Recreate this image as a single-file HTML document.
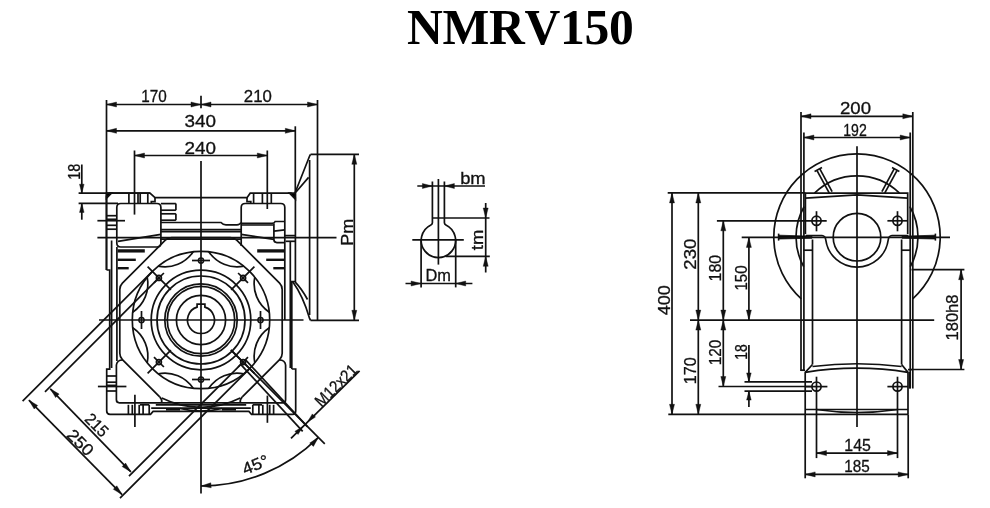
<!DOCTYPE html>
<html><head><meta charset="utf-8"><title>NMRV150</title>
<style>
html,body{margin:0;padding:0;background:#fff;}
body{filter:grayscale(1);width:990px;height:508px;overflow:hidden;position:relative;font-family:"Liberation Sans",sans-serif;}
h1{position:absolute;left:0;top:0;margin:0;width:990px;height:60px;font-family:"Liberation Serif",serif;font-weight:bold;font-size:49.6px;line-height:1;font-kerning:none;color:#000;}
h1 span{position:absolute;left:407px;top:3px;display:block;white-space:nowrap;letter-spacing:-0.3px;}
svg{position:absolute;left:0;top:0;}
svg line,svg path,svg circle{stroke:#111;stroke-width:1.7;fill:none;}
svg .a{fill:#111;stroke:#111;stroke-width:0.4;}
svg text{font-family:"Liberation Sans",sans-serif;font-size:16.5px;fill:#111;stroke:#111;stroke-width:0.3px;}
</style></head><body>
<h1><span>NMRV150</span></h1>
<svg width="990" height="508" viewBox="0 0 990 508">
<line x1="106.5" y1="100.0" x2="106.5" y2="270.0"/>
<line x1="201.0" y1="95.7" x2="201.0" y2="108.3"/>
<line x1="317.5" y1="100.0" x2="317.5" y2="320.0"/>
<line x1="106.5" y1="104.5" x2="201.0" y2="104.5"/>
<polygon class="a" points="106.5,104.5 116.5,102.0 116.5,107.0"/>
<polygon class="a" points="201.0,104.5 191.0,107.0 191.0,102.0"/>
<text x="153.9" y="102.2" text-anchor="middle" textLength="25.5" lengthAdjust="spacingAndGlyphs">170</text>
<line x1="201.0" y1="104.5" x2="317.5" y2="104.5"/>
<polygon class="a" points="201.0,104.5 211.0,102.0 211.0,107.0"/>
<polygon class="a" points="317.5,104.5 307.5,107.0 307.5,102.0"/>
<text x="257.8" y="102.2" text-anchor="middle" textLength="28" lengthAdjust="spacingAndGlyphs">210</text>
<line x1="295.3" y1="126.3" x2="295.3" y2="197.0"/>
<line x1="106.5" y1="130.8" x2="295.3" y2="130.8"/>
<polygon class="a" points="106.5,130.8 116.5,128.3 116.5,133.3"/>
<polygon class="a" points="295.3,130.8 285.3,133.3 285.3,128.3"/>
<text x="200.2" y="127.2" text-anchor="middle" textLength="31.5" lengthAdjust="spacingAndGlyphs">340</text>
<line x1="134.5" y1="150.5" x2="134.5" y2="214.6"/>
<line x1="267.3" y1="150.5" x2="267.3" y2="209.0"/>
<line x1="134.5" y1="155.5" x2="267.3" y2="155.5"/>
<polygon class="a" points="134.5,155.5 144.5,153.0 144.5,158.0"/>
<polygon class="a" points="267.3,155.5 257.3,158.0 257.3,153.0"/>
<text x="200.2" y="154.0" text-anchor="middle" textLength="31.5" lengthAdjust="spacingAndGlyphs">240</text>
<line x1="78.6" y1="193.2" x2="150.0" y2="193.2"/>
<line x1="78.6" y1="203.4" x2="118.0" y2="203.4"/>
<line x1="81.8" y1="164.5" x2="81.8" y2="193.2"/>
<line x1="81.8" y1="203.4" x2="81.8" y2="219.7"/>
<polygon class="a" points="81.8,193.2 79.5,184.2 84.1,184.2"/>
<polygon class="a" points="81.8,203.4 84.1,212.4 79.5,212.4"/>
<text x="79.8" y="171.8" text-anchor="middle" transform="rotate(-90 79.8 171.8)" textLength="16" lengthAdjust="spacingAndGlyphs" font-size="17.5">18</text>
<line x1="201.0" y1="161.0" x2="201.0" y2="493.4"/>
<line x1="99.0" y1="320.0" x2="303.5" y2="320.0"/>
<line x1="97.4" y1="237.6" x2="336.5" y2="237.6"/>
<line x1="97.4" y1="220.7" x2="125.0" y2="220.7"/>
<circle cx="201.0" cy="320.0" r="24.6"/>
<circle cx="201.0" cy="320.0" r="33.7"/>
<circle cx="201.0" cy="320.0" r="36.2"/>
<circle cx="201.0" cy="320.0" r="44.0"/>
<circle cx="201.0" cy="320.0" r="49.8"/>
<circle cx="201.0" cy="320.0" r="68.7"/>
<path d="M197.1,307.1 L197.1,304.2 L204.9,304.2 L204.9,307.1 A13.5,13.5 0 1 1 197.1,307.1Z"/>
<circle cx="260.5" cy="320.0" r="2.6" style="stroke-width:1.5"/>
<line x1="260.5" y1="311.0" x2="260.5" y2="329.0"/>
<circle cx="243.1" cy="362.1" r="2.6" style="stroke-width:1.5"/>
<line x1="231.1" y1="350.1" x2="254.4" y2="373.4"/>
<line x1="248.0" y1="357.1" x2="238.1" y2="367.0"/>
<circle cx="201.0" cy="379.5" r="2.6" style="stroke-width:1.5"/>
<line x1="210.0" y1="379.5" x2="192.0" y2="379.5"/>
<circle cx="158.9" cy="362.1" r="2.6" style="stroke-width:1.5"/>
<line x1="170.9" y1="350.1" x2="147.6" y2="373.4"/>
<line x1="163.9" y1="367.0" x2="154.0" y2="357.1"/>
<circle cx="141.5" cy="320.0" r="2.6" style="stroke-width:1.5"/>
<line x1="141.5" y1="329.0" x2="141.5" y2="311.0"/>
<circle cx="158.9" cy="277.9" r="2.6" style="stroke-width:1.5"/>
<line x1="170.9" y1="289.9" x2="147.6" y2="266.6"/>
<line x1="154.0" y1="282.9" x2="163.9" y2="273.0"/>
<circle cx="201.0" cy="260.5" r="2.6" style="stroke-width:1.5"/>
<line x1="192.0" y1="260.5" x2="210.0" y2="260.5"/>
<circle cx="243.1" cy="277.9" r="2.6" style="stroke-width:1.5"/>
<line x1="231.1" y1="289.9" x2="254.4" y2="266.6"/>
<line x1="238.1" y1="273.0" x2="248.0" y2="282.9"/>
<path d="M269.3,327.8 A34,34 0 0 0 254.8,362.8"/>
<path d="M243.8,373.8 A34,34 0 0 0 208.8,388.3"/>
<path d="M193.2,388.3 A34,34 0 0 0 158.2,373.8"/>
<path d="M147.2,362.8 A34,34 0 0 0 132.7,327.8"/>
<path d="M132.7,312.2 A34,34 0 0 0 147.2,277.2"/>
<path d="M158.2,266.2 A34,34 0 0 0 193.2,251.7"/>
<path d="M208.8,251.7 A34,34 0 0 0 243.8,266.2"/>
<path d="M254.8,277.2 A34,34 0 0 0 269.3,312.2"/>
<path d="M159.7,396.9 L122.4,359.6 A9,9 0 0 1 119.8,353.3 L119.8,289.4 A9,9 0 0 1 122.4,283.1 L165.3,240.2 A9,9 0 0 1 171.6,237.6 L230.4,237.6 A9,9 0 0 1 236.7,240.2 L279.6,283.1 A9,9 0 0 1 282.2,289.4 L282.2,353.3 A9,9 0 0 1 279.6,359.6 L242.3,396.9"/>
<path d="M161.7,402.8 Q162.3,399.5 159.7,396.9"/>
<path d="M240.3,402.8 Q239.7,399.5 242.3,396.9"/>
<path d="M161.8,398 A87.4,87.4 0 0 0 240.2,398"/>
<path d="M106.5,270 L106.5,196.2 L109.5,193.2 L150,193.2 L155,197.7 L247,197.7 L250.2,193.2 L291,193.2 L295.4,197.7 L295.4,281.5 L291.8,281.5 L291.8,369"/>
<path d="M106.5,193.2 L111.5,193.2 L106.5,198.2Z" style="fill:#000;"/>
<path d="M289.5,193.2 L295.4,193.2 L295.4,199.2Z" style="fill:#000;"/>
<path d="M155,197.7 L155,201.6 L151.3,201.6 L151.3,203.5"/>
<path d="M247,197.7 L247,201.6 L250.8,201.6 L250.8,203.5"/>
<line x1="128.9" y1="193.2" x2="128.9" y2="203.5"/>
<line x1="138.0" y1="193.2" x2="138.0" y2="203.5"/>
<line x1="140.2" y1="193.2" x2="140.2" y2="203.5"/>
<line x1="147.8" y1="193.2" x2="147.8" y2="203.5"/>
<line x1="253.6" y1="193.2" x2="253.6" y2="203.5"/>
<line x1="262.4" y1="193.2" x2="262.4" y2="203.5"/>
<line x1="271.3" y1="193.2" x2="271.3" y2="203.5"/>
<path d="M116.8,243 L116.8,207.6 Q116.8,203.5 120.8,203.5 L156.9,203.5 Q160.9,203.5 160.9,207.6 L160.9,243 Q160.9,247 156.9,247 L120.8,247 Q116.8,247 116.8,243"/>
<path d="M160.9,234.3 L118,241.3"/>
<line x1="160.9" y1="203.6" x2="175.9" y2="203.6"/>
<line x1="175.9" y1="203.6" x2="175.9" y2="210.2"/>
<line x1="160.9" y1="210.2" x2="175.9" y2="210.2"/>
<line x1="160.9" y1="213.8" x2="175.9" y2="213.8"/>
<line x1="175.9" y1="213.8" x2="175.9" y2="220.2"/>
<line x1="160.9" y1="220.2" x2="175.9" y2="220.2"/>
<path d="M160.9,222.5 L221,222.5 Q223,224.8 226,224.8 L237,224.8 Q240,224.8 241,222.5"/>
<line x1="160.9" y1="229.6" x2="241.0" y2="229.6"/>
<line x1="160.9" y1="231.6" x2="241.0" y2="231.6"/>
<line x1="106.5" y1="215.7" x2="116.8" y2="215.7"/>
<line x1="106.5" y1="219.3" x2="116.8" y2="219.3"/>
<line x1="106.5" y1="225.3" x2="116.8" y2="225.3"/>
<line x1="106.5" y1="229.2" x2="116.8" y2="229.2"/>
<path d="M241.2,246 L241.2,207.6 Q241.2,203.5 245.2,203.5 L280.8,203.5 Q284.8,203.5 284.8,207.6 L284.8,320"/>
<path d="M241.2,223.4 L272,223.4 Q274.5,223.4 275.2,221.5 L284.8,221.5"/>
<line x1="241.2" y1="225.0" x2="273.5" y2="225.0"/>
<path d="M273.9,223.5 L273.9,239.6 Q273.9,242.6 276.9,242.6 L284.8,242.6"/>
<line x1="273.9" y1="231.1" x2="284.8" y2="229.8"/>
<line x1="241.2" y1="234.3" x2="273.9" y2="239.4"/>
<line x1="284.8" y1="235.6" x2="295.4" y2="235.6"/>
<line x1="160.4" y1="239.2" x2="241.0" y2="239.2"/>
<line x1="285.6" y1="241.3" x2="295.0" y2="241.3"/>
<line x1="117.6" y1="250.9" x2="144.8" y2="250.9" style="stroke-width:3.3"/>
<line x1="284.4" y1="250.9" x2="257.2" y2="250.9" style="stroke-width:3.3"/>
<line x1="117.6" y1="259.8" x2="135.8" y2="259.8" style="stroke-width:2.4"/>
<line x1="284.4" y1="259.8" x2="266.2" y2="259.8" style="stroke-width:2.4"/>
<line x1="117.6" y1="268.2" x2="128.7" y2="268.2" style="stroke-width:2.4"/>
<line x1="284.4" y1="268.2" x2="273.3" y2="268.2" style="stroke-width:2.4"/>
<line x1="111.6" y1="240.5" x2="111.6" y2="368.0"/>
<line x1="116.9" y1="247.0" x2="116.9" y2="361.0"/>
<path d="M106.5,270 L109.7,270 L109.7,369.2 L106.7,369.2 L106.7,411 Q106.7,414.3 110,414.3 L150.5,414.3 L153.1,411.4 L248.9,411.4 L251.5,414.3 L292.5,414.3 Q295.7,414.3 295.7,411 L295.7,369 L291.8,369"/>
<line x1="290.3" y1="242.0" x2="290.3" y2="368.0"/>
<path d="M122.8,360 Q117,360 116.4,365 L116.4,399.8 Q116.4,402.8 119.4,402.8 L282.6,402.8 Q285.6,402.8 285.6,399.8 L285.6,365 Q285,360 279.2,360"/>
<line x1="140.0" y1="404.8" x2="149.2" y2="404.8"/>
<line x1="155.8" y1="404.8" x2="246.2" y2="404.8"/>
<line x1="252.8" y1="404.8" x2="262.0" y2="404.8"/>
<line x1="151.2" y1="408.1" x2="250.8" y2="408.1"/>
<line x1="166.0" y1="409.8" x2="180.0" y2="409.8" style="stroke-width:1.6"/>
<line x1="222.0" y1="409.8" x2="236.0" y2="409.8" style="stroke-width:1.6"/>
<path d="M180,408.5 Q201,413.5 222,408.5"/>
<line x1="128.4" y1="404.8" x2="128.4" y2="414.0"/>
<line x1="273.6" y1="404.8" x2="273.6" y2="414.0"/>
<line x1="132.3" y1="404.8" x2="132.3" y2="414.0"/>
<line x1="269.7" y1="404.8" x2="269.7" y2="414.0"/>
<line x1="139.2" y1="404.8" x2="139.2" y2="414.0"/>
<line x1="262.8" y1="404.8" x2="262.8" y2="414.0"/>
<line x1="143.1" y1="404.8" x2="143.1" y2="414.0"/>
<line x1="258.9" y1="404.8" x2="258.9" y2="414.0"/>
<line x1="149.2" y1="404.8" x2="149.2" y2="414.0"/>
<line x1="252.8" y1="404.8" x2="252.8" y2="414.0"/>
<line x1="106.7" y1="376.0" x2="116.4" y2="376.0"/>
<line x1="106.7" y1="382.2" x2="116.4" y2="382.2"/>
<line x1="106.7" y1="385.4" x2="116.4" y2="385.4"/>
<line x1="106.7" y1="391.0" x2="116.4" y2="391.0"/>
<line x1="97.9" y1="386.5" x2="126.4" y2="386.5"/>
<line x1="134.9" y1="394.8" x2="134.9" y2="427.0"/>
<line x1="267.4" y1="395.6" x2="267.4" y2="422.8"/>
<line x1="309.6" y1="160.0" x2="309.6" y2="315.0"/>
<line x1="310.5" y1="154.3" x2="359.0" y2="154.3"/>
<line x1="310.5" y1="320.3" x2="359.0" y2="320.3"/>
<path d="M310.5,154.3 L309.6,156 L295,193"/>
<line x1="308.6" y1="177.4" x2="295.8" y2="192.2"/>
<path d="M310.5,320.3 L309.6,318.5 Q303,296 292.6,281.6"/>
<path d="M307.5,299.5 Q302,289 295,281.8"/>
<line x1="354.3" y1="154.3" x2="354.3" y2="320.3"/>
<polygon class="a" points="354.3,154.3 356.8,164.3 351.8,164.3"/>
<polygon class="a" points="354.3,320.3 351.8,310.3 356.8,310.3"/>
<text x="353.3" y="232.2" text-anchor="middle" transform="rotate(-90 353.3 232.2)" textLength="27" lengthAdjust="spacingAndGlyphs">Pm</text>
<line x1="230.8" y1="349.8" x2="324.8" y2="443.8"/>
<line x1="245.4" y1="359.7" x2="307.3" y2="426.7"/>
<line x1="240.7" y1="364.4" x2="302.7" y2="431.3"/>
<line x1="291.0" y1="438.4" x2="359.6" y2="370.8"/>
<polygon class="a" points="307.5,421.9 312.3,413.9 315.5,417.1"/>
<polygon class="a" points="302.9,426.5 298.1,434.5 294.9,431.3"/>
<text x="340.0" y="389.3" text-anchor="middle" transform="rotate(-45 340.0 389.3)" textLength="52" lengthAdjust="spacingAndGlyphs" font-size="17">M12x21</text>
<path d="M201,486 A166,166 0 0 0 318.4,437.4"/>
<polygon class="a" points="201.0,486.0 210.8,482.8 211.2,487.8"/>
<polygon class="a" points="318.4,437.4 313.4,446.4 309.7,443.0"/>
<text x="257.5" y="470.0" text-anchor="middle" transform="rotate(-22 257.5 470.0)" textLength="27" lengthAdjust="spacingAndGlyphs">45°</text>
<line x1="152.4" y1="271.4" x2="22.6" y2="401.2"/>
<line x1="249.6" y1="368.6" x2="120.0" y2="498.2"/>
<line x1="158.9" y1="277.9" x2="45.0" y2="391.8"/>
<line x1="243.1" y1="362.1" x2="129.0" y2="476.2"/>
<line x1="28.9" y1="400.2" x2="122.1" y2="494.6"/>
<polygon class="a" points="28.9,400.2 37.7,405.5 34.2,409.0"/>
<polygon class="a" points="122.1,494.6 113.3,489.3 116.8,485.8"/>
<line x1="50.3" y1="388.8" x2="130.9" y2="471.9"/>
<polygon class="a" points="50.3,388.8 59.1,394.1 55.6,397.6"/>
<polygon class="a" points="130.9,471.9 122.1,466.6 125.6,463.1"/>
<text x="92.8" y="428.9" text-anchor="middle" transform="rotate(45 92.8 428.9)" textLength="25.5" lengthAdjust="spacingAndGlyphs">215</text>
<text x="76.4" y="446.6" text-anchor="middle" transform="rotate(45 76.4 446.6)" textLength="30" lengthAdjust="spacingAndGlyphs">250</text>
<line x1="412.3" y1="239.8" x2="463.8" y2="239.8"/>
<line x1="438.4" y1="179.0" x2="438.4" y2="264.6"/>
<path d="M432.4,181.5 L432.4,222.7 Q432.4,224.2 430.9,224.9 A17.2,17.2 0 1 0 445.9,224.9 Q444.4,224.2 444.4,222.7 L444.4,181.5"/>
<line x1="417.3" y1="186.0" x2="485.0" y2="186.0"/>
<polygon class="a" points="432.4,186.0 422.4,188.5 422.4,183.5"/>
<polygon class="a" points="444.4,186.0 454.4,183.5 454.4,188.5"/>
<text x="472.9" y="184.0" text-anchor="middle" textLength="25.5" lengthAdjust="spacingAndGlyphs">bm</text>
<line x1="432.4" y1="218.0" x2="489.5" y2="218.0"/>
<line x1="445.7" y1="256.3" x2="489.8" y2="256.3"/>
<line x1="485.7" y1="203.0" x2="485.7" y2="272.5"/>
<polygon class="a" points="485.7,218.0 483.2,208.0 488.2,208.0"/>
<polygon class="a" points="485.7,256.3 488.2,266.3 483.2,266.3"/>
<text x="482.8" y="239.9" text-anchor="middle" transform="rotate(-90 482.8 239.9)" textLength="20.5" lengthAdjust="spacingAndGlyphs">tm</text>
<line x1="421.1" y1="239.8" x2="421.1" y2="287.4"/>
<line x1="455.7" y1="239.8" x2="455.7" y2="287.4"/>
<line x1="405.5" y1="283.5" x2="472.4" y2="283.5"/>
<polygon class="a" points="421.1,283.5 411.1,286.0 411.1,281.0"/>
<polygon class="a" points="455.7,283.5 465.7,281.0 465.7,286.0"/>
<text x="438.2" y="281.0" text-anchor="middle" textLength="25.5" lengthAdjust="spacingAndGlyphs">Dm</text>
<line x1="801.0" y1="112.0" x2="801.0" y2="371.0"/>
<line x1="912.8" y1="112.0" x2="912.8" y2="388.5"/>
<line x1="801.0" y1="116.3" x2="912.8" y2="116.3"/>
<polygon class="a" points="801.0,116.3 811.0,113.8 811.0,118.8"/>
<polygon class="a" points="912.8,116.3 902.8,118.8 902.8,113.8"/>
<text x="855.5" y="114.3" text-anchor="middle" textLength="31" lengthAdjust="spacingAndGlyphs">200</text>
<line x1="803.9" y1="132.4" x2="803.9" y2="371.0"/>
<line x1="910.2" y1="132.4" x2="910.2" y2="388.5"/>
<line x1="803.9" y1="137.5" x2="910.2" y2="137.5"/>
<polygon class="a" points="803.9,137.5 813.9,135.0 813.9,140.0"/>
<polygon class="a" points="910.2,137.5 900.2,140.0 900.2,135.0"/>
<text x="855.0" y="135.5" text-anchor="middle" textLength="23.5" lengthAdjust="spacingAndGlyphs">192</text>
<line x1="857.0" y1="146.2" x2="857.0" y2="427.0"/>
<path d="M801.3,298.8 A83.2,83.2 0 1 1 912.7,298.8"/>
<path d="M803.7,266.6 A61,61 0 0 1 804.2,206.5"/>
<path d="M814.5,193.2 A61,61 0 0 1 899.5,193.2"/>
<path d="M909.8,206.5 A61,61 0 0 1 910.3,266.6"/>
<path d="M805.4,234 L805.4,193.2 L907.7,193.2 L907.7,234"/>
<path d="M805.4,198.2 L857,194.9 L907.7,198.2"/>
<circle cx="816.5" cy="220.8" r="4.6"/>
<line x1="816.5" y1="211.2" x2="816.5" y2="231.3"/>
<circle cx="897.5" cy="220.8" r="4.6"/>
<line x1="897.5" y1="211.2" x2="897.5" y2="231.3"/>
<line x1="716.9" y1="220.8" x2="826.7" y2="220.8"/>
<line x1="887.4" y1="220.8" x2="907.7" y2="220.8"/>
<circle cx="857.0" cy="237.2" r="23.8"/>
<path d="M805.6,235.5 L822,235.5 Q825.3,235.8 825.8,240 A31.5,31.5 0 0 0 888.2,240 Q888.7,235.8 892,235.5 L908.4,235.5"/>
<line x1="812.5" y1="239.5" x2="812.5" y2="364.5"/>
<line x1="901.6" y1="239.5" x2="901.6" y2="364.5"/>
<line x1="803.6" y1="250.2" x2="812.5" y2="250.2"/>
<line x1="901.6" y1="250.2" x2="910.4" y2="250.2"/>
<line x1="816.9" y1="170.3" x2="829.3" y2="193.2"/>
<line x1="819.7" y1="168.7" x2="832.1" y2="191.6"/>
<line x1="814.6" y1="171.5" x2="822.0" y2="167.5" style="stroke-width:1.6"/>
<line x1="894.3" y1="168.7" x2="881.9" y2="191.6"/>
<line x1="897.1" y1="170.3" x2="884.7" y2="193.2"/>
<line x1="892.0" y1="167.5" x2="899.4" y2="171.5" style="stroke-width:1.6"/>
<path d="M778.3,237 L779,235.2 L812,236.2 L812,238.2 L779,239Z" style="fill:#000;stroke-width:0.8;"/>
<line x1="778.6" y1="233.6" x2="778.6" y2="240.6" style="stroke-width:1.6"/>
<path d="M935.7,237 L935,235.2 L902,236.2 L902,238.2 L935,239Z" style="fill:#000;stroke-width:0.8;"/>
<line x1="935.4" y1="233.6" x2="935.4" y2="240.6" style="stroke-width:1.6"/>
<line x1="741.7" y1="237.4" x2="950.0" y2="237.4"/>
<line x1="667.7" y1="192.9" x2="805.4" y2="192.9"/>
<line x1="668.3" y1="414.3" x2="805.0" y2="414.3"/>
<line x1="690.0" y1="320.1" x2="934.2" y2="320.1"/>
<line x1="672.0" y1="192.9" x2="672.0" y2="414.3"/>
<polygon class="a" points="672.0,192.9 674.5,202.9 669.5,202.9"/>
<polygon class="a" points="672.0,414.3 669.5,404.3 674.5,404.3"/>
<text x="670.2" y="300.3" text-anchor="middle" transform="rotate(-90 670.2 300.3)" textLength="30" lengthAdjust="spacingAndGlyphs">400</text>
<line x1="698.3" y1="192.9" x2="698.3" y2="414.3"/>
<polygon class="a" points="698.3,192.9 700.8,202.9 695.8,202.9"/>
<polygon class="a" points="698.3,320.1 695.8,310.1 700.8,310.1"/>
<polygon class="a" points="698.3,320.1 700.8,330.1 695.8,330.1"/>
<polygon class="a" points="698.3,414.3 695.8,404.3 700.8,404.3"/>
<text x="696.0" y="254.2" text-anchor="middle" transform="rotate(-90 696.0 254.2)" textLength="31" lengthAdjust="spacingAndGlyphs">230</text>
<text x="695.8" y="370.8" text-anchor="middle" transform="rotate(-90 695.8 370.8)" textLength="27" lengthAdjust="spacingAndGlyphs">170</text>
<line x1="723.3" y1="220.8" x2="723.3" y2="386.5"/>
<polygon class="a" points="723.3,220.8 725.8,230.8 720.8,230.8"/>
<polygon class="a" points="723.3,320.1 720.8,310.1 725.8,310.1"/>
<polygon class="a" points="723.3,320.1 725.8,330.1 720.8,330.1"/>
<polygon class="a" points="723.3,386.5 720.8,376.5 725.8,376.5"/>
<text x="721.0" y="268.2" text-anchor="middle" transform="rotate(-90 721.0 268.2)" textLength="26.5" lengthAdjust="spacingAndGlyphs">180</text>
<text x="720.8" y="352.4" text-anchor="middle" transform="rotate(-90 720.8 352.4)" textLength="25.5" lengthAdjust="spacingAndGlyphs">120</text>
<line x1="718.5" y1="386.5" x2="812.0" y2="386.5"/>
<line x1="748.9" y1="237.4" x2="748.9" y2="320.1"/>
<polygon class="a" points="748.9,237.4 751.4,247.4 746.4,247.4"/>
<polygon class="a" points="748.9,320.1 746.4,310.1 751.4,310.1"/>
<text x="746.7" y="278.0" text-anchor="middle" transform="rotate(-90 746.7 278.0)" textLength="25" lengthAdjust="spacingAndGlyphs">150</text>
<line x1="744.5" y1="381.9" x2="812.0" y2="381.9"/>
<line x1="744.5" y1="391.1" x2="812.0" y2="391.1"/>
<line x1="748.9" y1="345.0" x2="748.9" y2="381.9"/>
<line x1="748.9" y1="391.1" x2="748.9" y2="407.0"/>
<polygon class="a" points="748.9,381.9 746.6,372.9 751.2,372.9"/>
<polygon class="a" points="748.9,391.1 751.2,400.1 746.6,400.1"/>
<text x="746.6" y="352.0" text-anchor="middle" transform="rotate(-90 746.6 352.0)" textLength="15.5" lengthAdjust="spacingAndGlyphs">18</text>
<path d="M800.7,370.2 L805,370.2"/>
<path d="M913,369.6 L908,369.6"/>
<path d="M812.5,364.5 L805.2,372.4 L805.2,414.3"/>
<path d="M901.6,364.5 L908,372.4 L908,414.3"/>
<path d="M805.2,372.4 Q857,364 908,372.4"/>
<path d="M812.5,366.5 Q857,361 901.6,366.5"/>
<line x1="805.2" y1="409.5" x2="908.0" y2="409.5"/>
<line x1="805.2" y1="414.3" x2="908.0" y2="414.3"/>
<path d="M816,409.5 Q857,415.5 898,409.5"/>
<circle cx="816.5" cy="386.6" r="4.6"/>
<line x1="816.5" y1="376.7" x2="816.5" y2="458.1"/>
<circle cx="897.5" cy="386.6" r="4.6"/>
<line x1="897.5" y1="376.7" x2="897.5" y2="458.1"/>
<line x1="805.4" y1="386.6" x2="827.4" y2="386.6"/>
<line x1="887.4" y1="386.6" x2="908.0" y2="386.6"/>
<line x1="805.2" y1="414.3" x2="805.2" y2="478.3"/>
<line x1="908.2" y1="414.3" x2="908.2" y2="478.3"/>
<line x1="816.5" y1="453.1" x2="897.5" y2="453.1"/>
<polygon class="a" points="816.5,453.1 826.5,450.6 826.5,455.6"/>
<polygon class="a" points="897.5,453.1 887.5,455.6 887.5,450.6"/>
<text x="857.6" y="450.8" text-anchor="middle" textLength="26.5" lengthAdjust="spacingAndGlyphs">145</text>
<line x1="805.2" y1="474.4" x2="908.2" y2="474.4"/>
<polygon class="a" points="805.2,474.4 815.2,471.9 815.2,476.9"/>
<polygon class="a" points="908.2,474.4 898.2,476.9 898.2,471.9"/>
<text x="857.0" y="471.9" text-anchor="middle" textLength="25.5" lengthAdjust="spacingAndGlyphs">185</text>
<line x1="909.6" y1="372.0" x2="909.6" y2="388.5"/>
<line x1="911.5" y1="269.7" x2="964.4" y2="269.7"/>
<line x1="911.5" y1="369.5" x2="964.4" y2="369.5"/>
<line x1="961.1" y1="269.7" x2="961.1" y2="369.5"/>
<polygon class="a" points="961.1,269.7 963.6,279.7 958.6,279.7"/>
<polygon class="a" points="961.1,369.5 958.6,359.5 963.6,359.5"/>
<text x="957.8" y="317.5" text-anchor="middle" transform="rotate(-90 957.8 317.5)" textLength="46" lengthAdjust="spacingAndGlyphs">180h8</text>
</svg>
</body></html>
